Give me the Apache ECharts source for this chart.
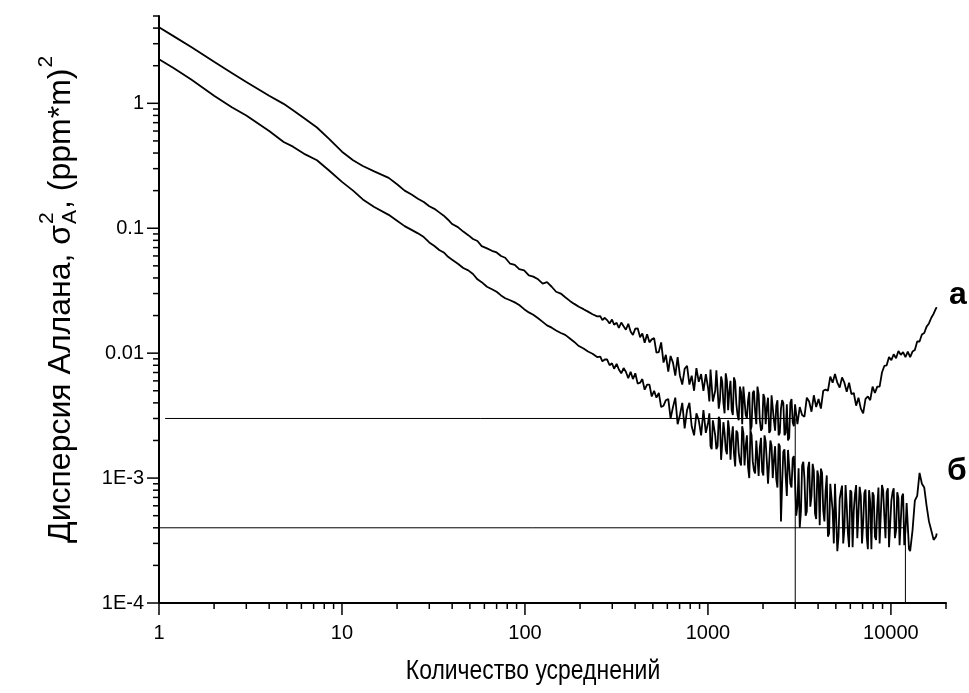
<!DOCTYPE html>
<html>
<head>
<meta charset="utf-8">
<script src="https://cdn.jsdelivr.net/npm/echarts@6/dist/echarts.min.js"></script>
<style>
  html, body { margin: 0; padding: 0; background: #fff; }
  #chart { width: 969px; height: 693px; }
</style>
</head>
<body>
<div id="chart"></div>
<script>
// number of averages (x) for the smooth start of both curves
var countsSmooth = [1, 1.2, 1.5, 2, 2.5, 3, 4, 4.8, 5.4, 6.3,
  7.3, 8.5, 10, 11.5, 13, 15, 18, 20, 22, 24,
  26, 28, 30, 32, 34, 36, 38, 40, 43, 46,
  49, 52, 55, 58, 62, 66, 70, 74, 78, 83,
  88, 93, 99, 105, 111, 118, 125, 132, 140, 148,
  157, 166, 176, 186, 197, 209, 221, 234, 248];
var aSmooth = [4.06, 3.45, 2.82, 2.15, 1.75, 1.48, 1.15, 0.99, 0.88, 0.75,
  0.64, 0.52, 0.41, 0.35, 0.315, 0.285, 0.253, 0.225, 0.2, 0.186,
  0.172, 0.162, 0.15, 0.143, 0.134, 0.126, 0.117, 0.108, 0.102, 0.094,
  0.088, 0.082, 0.079, 0.072, 0.069, 0.066, 0.064, 0.060, 0.058, 0.052,
  0.051, 0.047, 0.046, 0.042, 0.041, 0.039, 0.036, 0.037, 0.034, 0.031,
  0.030, 0.028, 0.0262, 0.0248, 0.0235, 0.0225, 0.0215, 0.0205, 0.0197];
var bSmooth = [2.25, 1.92, 1.55, 1.15, 0.93, 0.80, 0.60, 0.49, 0.45, 0.39,
  0.35, 0.29, 0.235, 0.2, 0.17, 0.148, 0.128, 0.115, 0.104, 0.097,
  0.091, 0.085, 0.077, 0.072, 0.067, 0.064, 0.059, 0.056, 0.052, 0.048,
  0.046, 0.043, 0.039, 0.037, 0.034, 0.0325, 0.031, 0.029, 0.0275, 0.0265,
  0.0255, 0.0243, 0.0225, 0.0212, 0.0203, 0.019, 0.0178, 0.0167, 0.016, 0.0152,
  0.0145, 0.014, 0.0131, 0.0123, 0.0114, 0.0109, 0.0103, 0.0099, 0.0093];

// noisy tail, shared x positions
var countsNoisy = [258, 265, 273, 281, 290, 299, 307, 317, 326, 336,
  346, 356, 367, 378, 389, 401, 413, 426, 438, 451,
  465, 479, 493, 508, 523, 539, 555, 572, 589, 607,
  625, 644, 663, 683, 703, 724, 746, 769, 792, 815,
  840, 865, 891, 918, 945, 974, 1003, 1033, 1064, 1096,
  1129, 1163, 1197, 1233, 1270, 1308, 1348, 1388, 1430, 1473,
  1517, 1562, 1609, 1657, 1707, 1758, 1811, 1865, 1921, 1979,
  2038, 2099, 2162, 2227, 2294, 2363, 2434, 2507, 2582, 2659,
  2739, 2821, 2906, 2993, 3083, 3175, 3271, 3369, 3470, 3574,
  3681, 3791, 3905, 4022, 4143, 4267, 4395, 4527, 4663, 4803,
  4947, 5095, 5248, 5406, 5568, 5735, 5907, 6084, 6267, 6455,
  6648, 6848, 7053, 7265, 7483, 7707, 7938, 8177, 8422, 8675,
  8935, 9203, 9479, 9764, 10057, 10358, 10669, 10989, 11319, 11658,
  12008, 12368, 12739, 13121, 13515, 13920, 14338, 14768, 15211, 15668,
  16138, 16622, 17121, 17634, 17800];
var aNoisy = [0.0198, 0.0184, 0.0192, 0.0184, 0.0173, 0.0186, 0.0169, 0.0175, 0.0159, 0.0176,
  0.0164, 0.0154, 0.0172, 0.0149, 0.0140, 0.0157, 0.0158, 0.0134, 0.0144, 0.0121,
  0.0142, 0.0122, 0.0129, 0.0132, 0.0101, 0.0102, 0.0122, 0.0084, 0.0097, 0.0071,
  0.0095, 0.0084, 0.0066, 0.0093, 0.0066, 0.0056, 0.0075, 0.0079, 0.0056, 0.0066,
  0.0050, 0.0076, 0.0059, 0.0068, 0.0050, 0.0068, 0.0052, 0.0074, 0.0041, 0.0050,
  0.0074, 0.0042, 0.0059, 0.0033, 0.0060, 0.0049, 0.0035, 0.0064, 0.0039, 0.0029,
  0.0049, 0.0054, 0.0032, 0.0042, 0.0024, 0.0048, 0.0034, 0.0054, 0.0029, 0.0025,
  0.0044, 0.0037, 0.0023, 0.0046, 0.0029, 0.0038, 0.0022, 0.0036, 0.0040, 0.0023,
  0.0020, 0.0040, 0.0028, 0.0039, 0.0027, 0.0037, 0.0032, 0.0031, 0.0044, 0.0041,
  0.0034, 0.0046, 0.0037, 0.0043, 0.0036, 0.0050, 0.0051, 0.0050, 0.0065, 0.0058,
  0.0068, 0.0058, 0.0053, 0.0064, 0.0058, 0.0049, 0.0058, 0.0047, 0.0048, 0.0038,
  0.0044, 0.0036, 0.0033, 0.0043, 0.0045, 0.0042, 0.0054, 0.0048, 0.0054, 0.0054,
  0.0070, 0.0079, 0.0080, 0.0093, 0.0088, 0.0098, 0.0091, 0.0104, 0.0097, 0.0102,
  0.0093, 0.0103, 0.0093, 0.0103, 0.0106, 0.0124, 0.0124, 0.0141, 0.0145, 0.0163,
  0.0173, 0.0192, 0.0207, 0.0228, 0.0233];
var bNoisy = [0.0094, 0.0086, 0.0089, 0.0089, 0.0080, 0.0083, 0.0075, 0.0082, 0.0074, 0.0069,
  0.0076, 0.0071, 0.0063, 0.0071, 0.0062, 0.0069, 0.0057, 0.0058, 0.0062, 0.0051,
  0.0056, 0.0056, 0.0045, 0.0050, 0.0044, 0.0048, 0.0037, 0.0038, 0.0042, 0.0043,
  0.0030, 0.0037, 0.0044, 0.0027, 0.0032, 0.0040, 0.0025, 0.0035, 0.0040, 0.0026,
  0.0022, 0.0033, 0.0029, 0.0022, 0.0035, 0.0023, 0.0028, 0.0018, 0.0029, 0.0022,
  0.0018, 0.0029, 0.0019, 0.0023, 0.00155, 0.0024, 0.0021, 0.00156, 0.0024, 0.0016,
  0.00126, 0.0023, 0.0018, 0.00122, 0.0024, 0.00136, 0.00109, 0.0020, 0.00176, 0.00113,
  0.0022, 0.00135, 0.00093, 0.00182, 0.0014, 0.00098, 0.00189, 0.00045, 0.00163, 0.00104,
  0.00168, 0.0009, 0.00144, 0.00094, 0.0006, 0.0004, 0.00126, 0.00099, 0.00054, 0.00135,
  0.00072, 0.00114, 0.00047, 0.00102, 0.00119, 0.00055, 0.00079, 0.00034, 0.0009, 0.00055,
  0.0009, 0.00026, 0.00068, 0.00087, 0.00039, 0.0006, 0.00028, 0.00077, 0.00055, 0.00088,
  0.00033, 0.00072, 0.00044, 0.00081, 0.00027, 0.00064, 0.00077, 0.00034, 0.00059, 0.0003,
  0.00088, 0.0005, 0.00077, 0.00028, 0.00066, 0.00083, 0.00038, 0.00069, 0.00029, 0.00075,
  0.00038, 0.00064, 0.00026, 0.00038, 0.00066, 0.00072, 0.0011, 0.0009, 0.00084, 0.0006,
  0.00045, 0.00038, 0.00032, 0.00034, 0.00036];

// extra in-between readings where the scatter is densest
var countsDenseA = [1018, 1048, 1080, 1112, 1146, 1180, 1215, 1251, 1289, 1328,
  1368, 1409, 1451, 1495, 1539, 1585, 1633, 1682, 1732, 1784,
  1838, 1893, 1950, 2008, 2068, 2130, 2194, 2260, 2328, 2398,
  2470, 2544, 2620, 2699, 2780, 2863, 2949];
var aDense = [0.0041, 0.0073, 0.0041, 0.0073, 0.0036, 0.0065, 0.0040, 0.0069, 0.0035, 0.0060,
  0.0032, 0.0059, 0.0032, 0.0054, 0.0027, 0.0056, 0.0030, 0.0049, 0.0026, 0.0050,
  0.0027, 0.0047, 0.0024, 0.0047, 0.0027, 0.0044, 0.0024, 0.0046, 0.0024, 0.0042,
  0.0023, 0.0042, 0.0022, 0.0039, 0.0021, 0.0043, 0.0026];
var countsDenseB = [1018, 1048, 1080, 1112, 1146, 1180, 1215, 1251, 1289, 1328,
  1368, 1409, 1451, 1495, 1539, 1585, 1633, 1682, 1732, 1784,
  1838, 1893, 1950, 2008, 2068, 2130, 2194, 2260, 2328, 2398,
  2470, 2544, 2620, 2699, 2780, 2863, 2949, 3038, 3129, 3223,
  3320, 3419, 3522, 3627, 3736, 3848, 3963, 4082, 4205, 4331,
  4461, 4595, 4733, 4875, 5021, 5171, 5327, 5487, 5651, 5821,
  5995, 6175, 6361, 6551, 6748, 6950, 7159, 7374, 7595, 7822,
  8057, 8299, 8548, 8805, 9069, 9341, 9621, 9910, 10207, 10513,
  10829, 11154, 11488, 11832, 12188, 12553];
var bDense = [0.0033, 0.0017, 0.0029, 0.0017, 0.0031, 0.0014, 0.0028, 0.0017, 0.0029, 0.0014,
  0.0026, 0.00124, 0.0023, 0.00135, 0.0026, 0.00126, 0.0022, 0.0010, 0.0022, 0.00115,
  0.0020, 0.00104, 0.0021, 0.00105, 0.00195, 0.0009, 0.0020, 0.0010, 0.0018, 0.00084,
  0.0018, 0.0009, 0.0017, 0.00072, 0.0017, 0.00084, 0.0015, 0.0005, 0.0012, 0.00054,
  0.00135, 0.0005, 0.0012, 0.00059, 0.0013, 0.00052, 0.00115, 0.00042, 0.0011, 0.00045,
  0.00105, 0.00036, 0.00087, 0.0003, 0.00091, 0.00034, 0.00078, 0.0003, 0.00088, 0.00036,
  0.0008, 0.00028, 0.00074, 0.00033, 0.00085, 0.0003, 0.00076, 0.00034, 0.0008, 0.00027,
  0.00072, 0.00032, 0.00084, 0.0003, 0.0008, 0.00033, 0.00083, 0.00029, 0.00077, 0.00033,
  0.00077, 0.00029, 0.00071, 0.00029, 0.00063, 0.00027];

// horizontal / vertical guide lines
var guideA = [[1.08, 0.003], [3000, 0.003], [3000, 1e-4]];
var guideB = [[1, 4e-4], [12000, 4e-4], [12000, 1e-4]];

var xTicks = [1, 2, 3, 4, 5, 6, 7, 8, 9, 10, 20, 30, 40, 50, 60, 70, 80, 90,
  100, 200, 300, 400, 500, 600, 700, 800, 900, 1000, 2000, 3000, 4000, 5000,
  6000, 7000, 8000, 9000, 10000, 20000];
var yTicks = [1e-4, 2e-4, 3e-4, 4e-4, 5e-4, 6e-4, 7e-4, 8e-4, 9e-4,
  1e-3, 2e-3, 3e-3, 4e-3, 5e-3, 6e-3, 7e-3, 8e-3, 9e-3,
  0.01, 0.02, 0.03, 0.04, 0.05, 0.06, 0.07, 0.08, 0.09,
  0.1, 0.2, 0.3, 0.4, 0.5, 0.6, 0.7, 0.8, 0.9, 1, 2, 3, 4, 5];
var xLabels = { 1: '1', 10: '10', 100: '100', 1000: '1000', 10000: '10000' };
var yLabels = { '-4': '1E-4', '-3': '1E-3', '-2': '0.01', '-1': '0.1', '0': '1' };

var X_MIN = 1, X_MAX = 20000, Y_MIN = 1e-4, Y_MAX = 5;
var FONT = '"Liberation Sans", Arial, sans-serif';

function zip(xs, ys) {
  return xs.map(function (x, i) { return [x, ys[i]]; });
}
function byX(p, q) { return p[0] - q[0]; }
var curveA = zip(countsSmooth, aSmooth)
  .concat(zip(countsNoisy, aNoisy), zip(countsDenseA, aDense)).sort(byX);
var curveB = zip(countsSmooth, bSmooth)
  .concat(zip(countsNoisy, bNoisy), zip(countsDenseB, bDense)).sort(byX);

function isDecade(v) {
  var e = Math.log10(v);
  return Math.abs(e - Math.round(e)) < 1e-6;
}

function tickSeries(values, dir) {
  return {
    type: 'custom',
    silent: true,
    clip: false,
    z: 5,
    data: values.map(function (v) { return dir === 'x' ? [v, Y_MIN] : [X_MIN, v]; }),
    renderItem: function (params, api) {
      var p = api.coord([api.value(0), api.value(1)]);
      var v = dir === 'x' ? api.value(0) : api.value(1);
      var len = isDecade(v) ? 12 : 6;
      var shape = dir === 'x'
        ? { x1: p[0], y1: p[1], x2: p[0], y2: p[1] + len }
        : { x1: p[0] - len, y1: p[1], x2: p[0], y2: p[1] };
      return { type: 'line', shape: shape, style: { stroke: '#000', lineWidth: 1.5 } };
    }
  };
}

// y axis title, laid out piece by piece (sigma with stacked 2 / A)
var mctx = document.createElement('canvas').getContext('2d');
function tw(t, size) {
  mctx.font = size + 'px ' + FONT;
  return mctx.measureText(t).width;
}
var T1 = 'Дисперсия Аллана, σ', T4 = ', (ppm*m)';
var big = 32, small = 21;
var x1 = tw(T1, big) + 1;
var x2 = x1 + Math.max(tw('2', small), tw('A', small)) + 1;
var x3 = x2 + tw(T4, big) + 1;
function titlePiece(text, x, y, size) {
  return { type: 'text', x: x, y: y,
    style: { text: text, font: size + 'px ' + FONT, fill: '#000', align: 'left', verticalAlign: 'middle' } };
}

var chart = echarts.init(document.getElementById('chart'));
chart.setOption({
  backgroundColor: '#fff',
  animation: false,
  grid: { left: 159, right: 23, top: 16, bottom: 90, containLabel: false },
  xAxis: {
    type: 'log',
    logBase: 10,
    min: X_MIN,
    max: X_MAX,
    axisLine: { show: true, lineStyle: { color: '#000', width: 2 } },
    axisTick: { show: false },
    splitLine: { show: false },
    axisLabel: {
      fontFamily: FONT, fontSize: 20, color: '#000', margin: 20,
      formatter: function (v) {
        if (!isDecade(v)) return '';
        return xLabels[Math.round(v)] || '';
      }
    }
  },
  yAxis: {
    type: 'log',
    logBase: 10,
    min: Y_MIN,
    max: Y_MAX,
    axisLine: { show: true, lineStyle: { color: '#000', width: 2 } },
    axisTick: { show: false },
    splitLine: { show: false },
    axisLabel: {
      fontFamily: FONT, fontSize: 20, color: '#000', margin: 15,
      formatter: function (v) {
        if (!isDecade(v)) return '';
        return yLabels[String(Math.round(Math.log10(v)))] || '';
      }
    }
  },
  graphic: [
    {
      type: 'group',
      x: 61, y: 543,
      rotation: Math.PI / 2,
      children: [
        titlePiece(T1, 0, 0, big),
        titlePiece('2', x1, -14, small),
        titlePiece('A', x1, 9, small),
        titlePiece(T4, x2, 0, big),
        titlePiece('2', x3, -15, small)
      ]
    },
    { type: 'text', x: 533, y: 672, scaleX: 0.85,
      style: { text: 'Количество усреднений', font: '27px ' + FONT, fill: '#000', align: 'center', verticalAlign: 'middle' } },
    { type: 'text', x: 958, y: 295,
      style: { text: 'а', font: 'bold 32px ' + FONT, fill: '#000', align: 'center', verticalAlign: 'middle' } },
    { type: 'text', x: 957, y: 471,
      style: { text: 'б', font: 'bold 32px ' + FONT, fill: '#000', align: 'center', verticalAlign: 'middle' } }
  ],
  series: [
    { type: 'line', data: guideA, showSymbol: false, silent: true,
      lineStyle: { color: '#000', width: 1 } },
    { type: 'line', data: guideB, showSymbol: false, silent: true,
      lineStyle: { color: '#000', width: 1 } },
    { name: 'а', type: 'line', data: curveA, showSymbol: false, silent: true,
      lineStyle: { color: '#000', width: 1.8 } },
    { name: 'б', type: 'line', data: curveB, showSymbol: false, silent: true,
      lineStyle: { color: '#000', width: 1.8 } },
    tickSeries(xTicks, 'x'),
    tickSeries(yTicks, 'y')
  ]
});
</script>
</body>
</html>
